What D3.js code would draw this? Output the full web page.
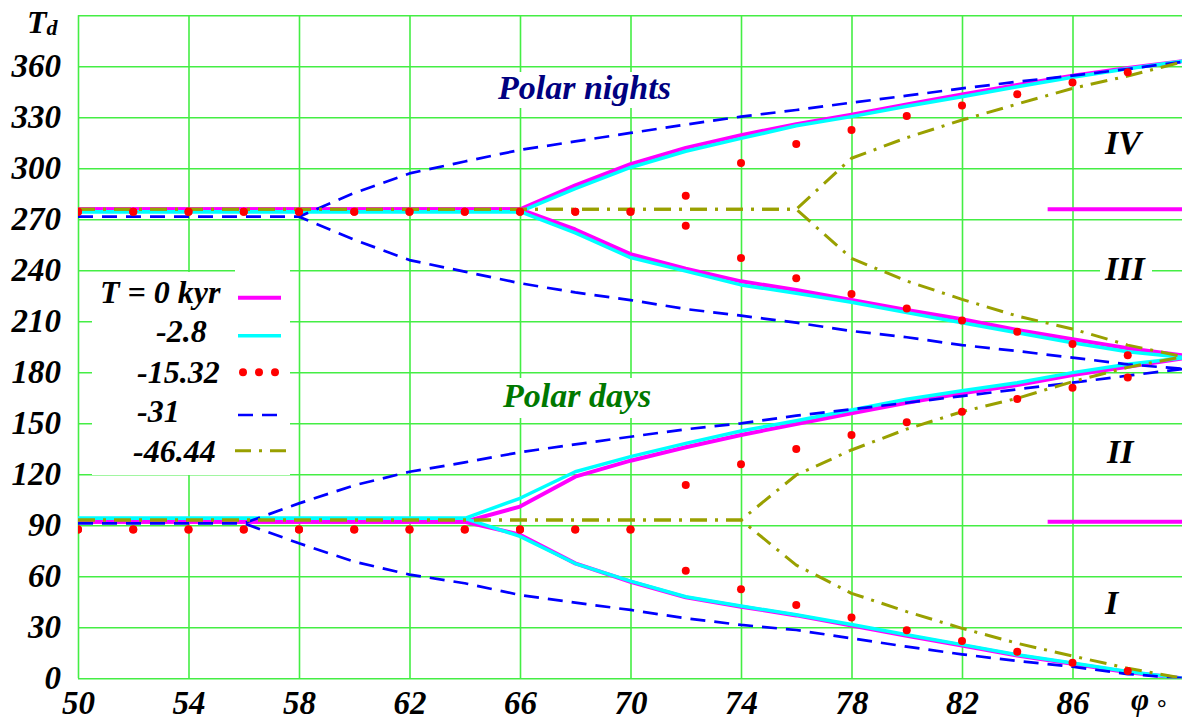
<!DOCTYPE html>
<html>
<head>
<meta charset="utf-8">
<script src="https://cdn.jsdelivr.net/npm/d3@7"></script>
<style>
  html, body { margin: 0; padding: 0; background: #fff; }
  svg { display: block; }
</style>
</head>
<body>
<svg id="chart" width="1182" height="721"></svg>
<script>
// Latitude grid (degrees) at which day numbers are tabulated
const latitudes = [50, 52, 54, 56, 58, 60, 62, 64, 66, 68, 70, 72, 74, 76, 78, 80, 82, 84, 86, 88, 90];

// Day numbers T_d for each epoch: [night end, night start, day end, day start]
const epoch0 = [
  [275.9, 275.9, 275.9, 275.9, 275.9, 275.9, 275.9, 275.9, 275.9, 290, 302.5, 312, 319.5, 326, 331.5, 337.5, 343.5, 349, 354.5, 359, 363],
  [275.9, 275.9, 275.9, 275.9, 275.9, 275.9, 275.9, 275.9, 275.9, 264, 249.5, 241, 233.5, 228.4, 222.5, 216.6, 211.2, 204.9, 199.4, 194.1, 190],
  [92.1, 92.1, 92.1, 92.1, 92.1, 92.1, 92.1, 92.1, 101, 118.6, 128, 135.9, 143.1, 149.6, 155.9, 162.1, 167.6, 172.5, 178.4, 183.3, 188.2],
  [92.1, 92.1, 92.1, 92.1, 92.1, 92.1, 92.1, 92.1, 84.5, 67.6, 56.8, 47.6, 42.1, 37, 31, 25, 19.3, 13.4, 8.5, 3.6, 0]
];
const epoch2_8 = [
  [274.5, 274.5, 274.5, 274.5, 274.5, 274.5, 274.5, 274.5, 274.5, 288, 300.5, 310, 317.6, 325, 330.4, 336.5, 342.1, 348, 353.5, 358.5, 363],
  [274.5, 274.5, 274.5, 274.5, 274.5, 274.5, 274.5, 274.5, 274.5, 262, 247.5, 239.5, 231.4, 226.5, 221.2, 215.1, 209.2, 203.3, 197.4, 192.1, 188.8],
  [94.1, 94.1, 94.1, 94.1, 94.1, 94.1, 94.1, 94.1, 105.9, 121.5, 130.4, 138.2, 145.5, 151.5, 157.8, 164.1, 169.2, 173.9, 179.8, 184.7, 188.5],
  [94.1, 94.1, 94.1, 94.1, 94.1, 94.1, 94.1, 94.1, 83.5, 67.5, 57.2, 48, 42.5, 37.4, 31.6, 25.6, 19.8, 13.9, 9, 4, 0]
];
const epoch15_32 = [
  [274.5, 274.5, 274.5, 274.5, 274.5, 274.5, 274.5, 274.5, 274.5, 274.5, 274.5, 283.9, 303.1, 314.3, 322.5, 330.8, 337, 343.5, 350.4, 356.5, null],
  [274.5, 274.5, 274.5, 274.5, 274.5, 274.5, 274.5, 274.5, 274.5, 274.5, 274.5, 266.2, 247.2, 235.3, 226.1, 217.6, 210.4, 203.9, 196.6, 190, null],
  [87.6, 87.6, 87.6, 87.6, 87.6, 87.6, 87.6, 87.6, 87.6, 87.6, 87.6, 113.7, 125.9, 134.9, 143.1, 150.6, 156.8, 164.3, 170.9, 177, null],
  [87.6, 87.6, 87.6, 87.6, 87.6, 87.6, 87.6, 87.6, 87.6, 87.6, 87.6, 63.3, 52.4, 43.1, 35.7, 28.2, 21.9, 15.6, 9.2, 4.3, null]
];
const epoch31 = [
  [271.5, 271.5, 271.5, 271.5, 271.5, 285.5, 297, 304, 310.8, 315.8, 320.8, 325.7, 330.4, 334.3, 338.6, 342.7, 347, 350.9, 354.5, 358.4, 362.7],
  [271.5, 271.5, 271.5, 271.5, 271.5, 258, 246, 239.2, 232.4, 227, 222.5, 217.2, 213.3, 209.2, 204.3, 200.6, 196, 192.5, 188.6, 184.7, 182],
  [91.2, 91.2, 91.2, 91.2, 102.9, 113.5, 121.5, 127, 133, 137.6, 142.1, 146.5, 150, 154.5, 158.2, 162.1, 166, 170, 173.9, 178, 182],
  [91.2, 91.2, 91.2, 91.2, 79.4, 68.6, 61, 55.9, 49, 44.5, 40.2, 35.3, 31.4, 28.4, 23.5, 18.6, 14.1, 10.2, 6.8, 2.5, 0]
];
const epoch46_44 = [
  [275.9, 275.9, 275.9, 275.9, 275.9, 275.9, 275.9, 275.9, 275.9, 275.9, 275.9, 275.9, 275.9, 275.9, 305.9, 318, 328.4, 337.8, 347, 354.3, 362.7],
  [275.9, 275.9, 275.9, 275.9, 275.9, 275.9, 275.9, 275.9, 275.9, 275.9, 275.9, 275.9, 275.9, 275.9, 247, 233.7, 222.9, 213.1, 205.5, 196, 189.2],
  [93.1, 93.1, 93.1, 93.1, 93.1, 93.1, 93.1, 93.1, 93.1, 93.1, 93.1, 93.1, 93.1, 119.6, 134.3, 146.6, 156.8, 164.7, 174.5, 182.9, 189.2],
  [93.1, 93.1, 93.1, 93.1, 93.1, 93.1, 93.1, 93.1, 93.1, 93.1, 93.1, 93.1, 93.1, 66.6, 50, 39.2, 29.4, 20.6, 13.1, 5.9, 0]
];

// Equinox reference levels near the pole for the present epoch
const poleBarFrom = [85.1, 85.1];
const poleBarTo = [90, 90];
const poleBarDay = [275.9, 92.1];

const legendLabels = ["T = 0 kyr", "-2.8", "-15.32", "-31", "-46.44"];
const regionLabels = ["IV", "III", "II", "I"];
const xTickValues = [50, 54, 58, 62, 66, 70, 74, 78, 82, 86, 90];
const yTickValues = [0, 30, 60, 90, 120, 150, 180, 210, 240, 270, 300, 330, 360, 390];

// ---- layout ----
const FONT = '"Liberation Serif", "Times New Roman", serif';
function serif(sel, size) {
  return sel.style("font-family", FONT).style("font-weight", "bold")
    .style("font-style", "italic").style("font-size", size + "px");
}
const svg = d3.select("#chart");
const plotLeft = 78, plotRight = 1183, plotTop = 15.3, plotBottom = 678.3;
const x = d3.scaleLinear().domain([50, 90]).range([plotLeft, plotRight]);
const y = d3.scaleLinear().domain([0, 390]).range([plotBottom, plotTop]);
const gridColor = "#44ee44";

// grid via axes
const gy = svg.append("g").attr("transform", `translate(${plotLeft},0)`)
  .call(d3.axisLeft(y).tickValues(yTickValues).tickSize(-(plotRight - plotLeft)).tickPadding(17)
    .tickFormat(d => d === 390 ? "" : d));
const gx = svg.append("g").attr("transform", `translate(0,${plotBottom})`)
  .call(d3.axisBottom(x).tickValues(xTickValues).tickSize(-(plotBottom - plotTop)).tickPadding(12)
    .tickFormat(d => d === 90 ? "" : d));
[gx, gy].forEach(g => {
  g.attr("font-family", null).attr("font-size", null);
  g.select(".domain").remove();
  g.selectAll(".tick line").attr("stroke", gridColor).attr("stroke-width", 1.6);
  serif(g.selectAll(".tick text").attr("fill", "#000"), 33);
});

// white boxes behind labels interrupting the grid
const boxes = [
  [92, 272, 198, 203], [235, 265, 55, 10],
  [494, 72, 184, 36], [498, 378, 160, 40], [1100, 256, 52, 28]
];
svg.append("g").selectAll("rect").data(boxes).join("rect")
  .attr("x", d => d[0]).attr("y", d => d[1]).attr("width", d => d[2]).attr("height", d => d[3])
  .attr("fill", "#fff");

// clipping to plot area
svg.append("clipPath").attr("id", "plotClip").append("rect")
  .attr("x", plotLeft).attr("y", plotTop).attr("width", plotRight - plotLeft).attr("height", plotBottom - plotTop);
const plot = svg.append("g").attr("clip-path", "url(#plotClip)");

const line = d3.line().defined(d => d[1] != null).x(d => x(d[0])).y(d => y(d[1]));
function drawSeries(branches, style) {
  plot.append("g").selectAll("path").data(branches).join("path")
    .attr("d", b => line(b.map((v, i) => [latitudes[i], v])))
    .attr("fill", "none")
    .attr("stroke", style.color)
    .attr("stroke-width", style.width)
    .attr("stroke-dasharray", style.dash || null)
    .attr("stroke-linejoin", "round");
}
const styles = [
  { color: "#ff00ff", width: 4 },
  { color: "#00ffff", width: 3.5 },
  { color: "#ff0000", dot: 4 },
  { color: "#0000ff", width: 2.7, dash: "15,9" },
  { color: "#99a000", width: 3, dash: "17,8,3,8" }
];
drawSeries(epoch0, styles[0]);
drawSeries(epoch2_8, styles[1]);
drawSeries(epoch31, styles[3]);
drawSeries(epoch46_44, styles[4]);

// -15.32 kyr drawn as dots
const dots = [];
epoch15_32.forEach(b => b.forEach((v, i) => { if (v != null) dots.push([latitudes[i], v]); }));
plot.append("g").selectAll("circle").data(dots).join("circle")
  .attr("cx", d => x(d[0])).attr("cy", d => y(d[1])).attr("r", 4).attr("fill", "#ff0000");

// present-epoch equinox bars near the pole
plot.append("g").selectAll("line").data(poleBarDay).join("line")
  .attr("x1", (d, i) => x(poleBarFrom[i])).attr("x2", (d, i) => x(poleBarTo[i]))
  .attr("y1", d => y(d)).attr("y2", d => y(d))
  .attr("stroke", "#ff00ff").attr("stroke-width", 4);

// axis titles
const tLabel = serif(svg.append("text").attr("x", 27).attr("y", 33), 32).text("T");
tLabel.append("tspan").attr("dy", 2).style("font-size", "22px").text("d");
serif(svg.append("text").attr("x", 1131).attr("y", 710), 31).text("φ");
serif(svg.append("text").attr("x", 1157).attr("y", 716), 24).style("font-style", "normal").text("°");

// regime annotations
serif(svg.append("text").attr("x", 498).attr("y", 99), 34).attr("fill", "#000080").text("Polar nights");
serif(svg.append("text").attr("x", 503).attr("y", 407), 34).attr("fill", "#007800").text("Polar days");
const regionPos = [[1105, 154], [1105, 280], [1107, 463], [1105, 614]];
serif(svg.append("g").selectAll("text").data(regionLabels).join("text")
  .attr("x", (d, i) => regionPos[i][0]).attr("y", (d, i) => regionPos[i][1]), 34).text(d => d);

// legend
const legendTextX = [100, 156, 137, 137, 133];
const legendTextY = [303, 342, 383, 422, 462];
const legendKeyY = [297.7, 335.7, 372.3, 415, 450.7];
const lg = svg.append("g");
serif(lg.selectAll("text").data(legendLabels).join("text")
  .attr("x", (d, i) => legendTextX[i]).attr("y", (d, i) => legendTextY[i]), 32).text(d => d);
styles.forEach((s, i) => {
  const ky = legendKeyY[i];
  if (s.dot) {
    lg.append("g").selectAll("circle").data([243, 259, 275]).join("circle")
      .attr("cx", d => d).attr("cy", ky).attr("r", s.dot).attr("fill", s.color);
  } else {
    lg.append("line").attr("x1", i === 4 ? 235 : 238).attr("x2", i === 4 ? 287 : 281)
      .attr("y1", ky).attr("y2", ky)
      .attr("stroke", s.color).attr("stroke-width", s.width)
      .attr("stroke-dasharray", s.dash ? (i === 4 ? "16,8,3,8" : "15,9") : null);
  }
});
</script>
</body>
</html>
